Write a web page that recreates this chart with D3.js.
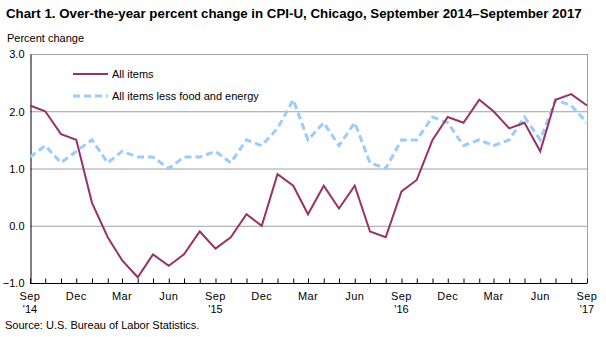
<!DOCTYPE html>
<html>
<head>
<meta charset="utf-8">
<script src="https://cdn.jsdelivr.net/npm/d3@7"></script>
<style>
body { margin: 0; background: #fff; }
svg { font-family: "Liberation Sans", Arial, sans-serif; }
.title { font-size: 13.3px; font-weight: bold; }
.tick text, .label { font-size: 11px; fill: #000; }
</style>
</head>
<body>
<svg id="chart" width="606" height="337"></svg>
<script>
// Monthly series, Sep 2014 through Sep 2017
const months = d3.range(37).map(i => new Date(2014, 8 + i, 1));
const allItems = [2.1, 2.0, 1.6, 1.5, 0.4, -0.2, -0.6, -0.9, -0.5, -0.7, -0.5, -0.1,
                  -0.4, -0.2, 0.2, 0.0, 0.9, 0.7, 0.2, 0.7, 0.3, 0.7, -0.1, -0.2,
                  0.6, 0.8, 1.5, 1.9, 1.8, 2.2, 2.0, 1.7, 1.8, 1.3, 2.2, 2.3, 2.1];
const coreItems = [1.2, 1.4, 1.1, 1.3, 1.5, 1.1, 1.3, 1.2, 1.2, 1.0, 1.2, 1.2,
                   1.3, 1.1, 1.5, 1.4, 1.7, 2.2, 1.5, 1.8, 1.4, 1.8, 1.1, 1.0,
                   1.5, 1.5, 1.9, 1.8, 1.4, 1.5, 1.4, 1.5, 1.9, 1.5, 2.2, 2.1, 1.8];
const yTicks = [-1.0, 0.0, 1.0, 2.0, 3.0];
const seriesNames = ["All items", "All items less food and energy"];

const plot = { left: 30, right: 587, top: 54, bottom: 283 };
const svg = d3.select("#chart");

const x = d3.scaleTime().domain([months[0], months[36]]).range([plot.left, plot.right]);
const y = d3.scaleLinear().domain([-1, 3]).range([plot.bottom, plot.top]);

svg.append("text").attr("class", "title").attr("x", 6).attr("y", 18)
  .text("Chart 1. Over-the-year percent change in CPI-U, Chicago, September 2014\u2013September 2017");
svg.append("text").attr("class", "label").attr("x", 7).attr("y", 42).text("Percent change");

// grid lines and frame
svg.append("g").selectAll("line").data(yTicks.slice(1)).join("line")
  .attr("x1", plot.left).attr("x2", plot.right)
  .attr("y1", d => y(d) + 0.5).attr("y2", d => y(d) + 0.5)
  .attr("stroke", "#a0a0a0");
svg.append("line").attr("x1", plot.right + 0.5).attr("x2", plot.right + 0.5)
  .attr("y1", plot.top).attr("y2", plot.bottom).attr("stroke", "#a0a0a0");

// y axis
const yAxis = svg.append("g").attr("transform", `translate(${plot.left + 0.5},0)`)
  .call(d3.axisLeft(y).tickValues(yTicks).tickFormat(d3.format(".1f")).tickSize(0).tickPadding(6));
yAxis.select(".domain").attr("stroke", "#000");
yAxis.selectAll("text").attr("dy", "0.35em");

// x axis, tick every month, labels every quarter
const xAxis = svg.append("g").attr("transform", `translate(0,${plot.bottom + 0.5})`)
  .call(d3.axisTop(x).tickValues(months).tickSize(5).tickFormat(""));
xAxis.select(".domain").attr("d", `M${plot.left},0H${plot.right}`).attr("stroke", "#000");
xAxis.selectAll(".tick line").attr("stroke", "#000");

const fmtMonth = d3.timeFormat("%b");
const labelled = months.filter((d, i) => i % 3 === 0);
const xl = svg.append("g");
xl.selectAll(".m").data(labelled).join("text")
  .attr("class", "label m").attr("x", d => x(d)).attr("y", 300)
  .attr("text-anchor", "middle").attr("letter-spacing", 0.4).text(d => fmtMonth(d));
xl.selectAll(".yr").data(labelled.filter(d => d.getMonth() === 8)).join("text")
  .attr("class", "label yr").attr("x", d => x(d)).attr("y", 313)
  .attr("text-anchor", "middle").text(d => "'" + String(d.getFullYear()).slice(2));

// lines
const line = d3.line().x((d, i) => x(months[i])).y(d => y(d));
svg.append("path").datum(coreItems).attr("d", line)
  .attr("fill", "none").attr("stroke", "#99ccff").attr("stroke-width", 3)
  .attr("stroke-dasharray", "7,4");
svg.append("path").datum(allItems).attr("d", line)
  .attr("fill", "none").attr("stroke", "#993366").attr("stroke-width", 2);

// legend
const legend = svg.append("g");
const styles = [
  { stroke: "#993366", width: 2, dash: null },
  { stroke: "#99ccff", width: 3, dash: "7,4" }
];
seriesNames.forEach((name, i) => {
  const ly = 74 + i * 22;
  legend.append("line").attr("x1", 73).attr("x2", 108).attr("y1", ly).attr("y2", ly)
    .attr("stroke", styles[i].stroke).attr("stroke-width", styles[i].width)
    .attr("stroke-dasharray", styles[i].dash);
  legend.append("text").attr("class", "label").attr("x", 112).attr("y", ly + 4).text(name);
});

svg.append("text").attr("class", "label").attr("x", 5).attr("y", 329)
  .text("Source: U.S. Bureau of Labor Statistics.");
</script>
</body>
</html>
